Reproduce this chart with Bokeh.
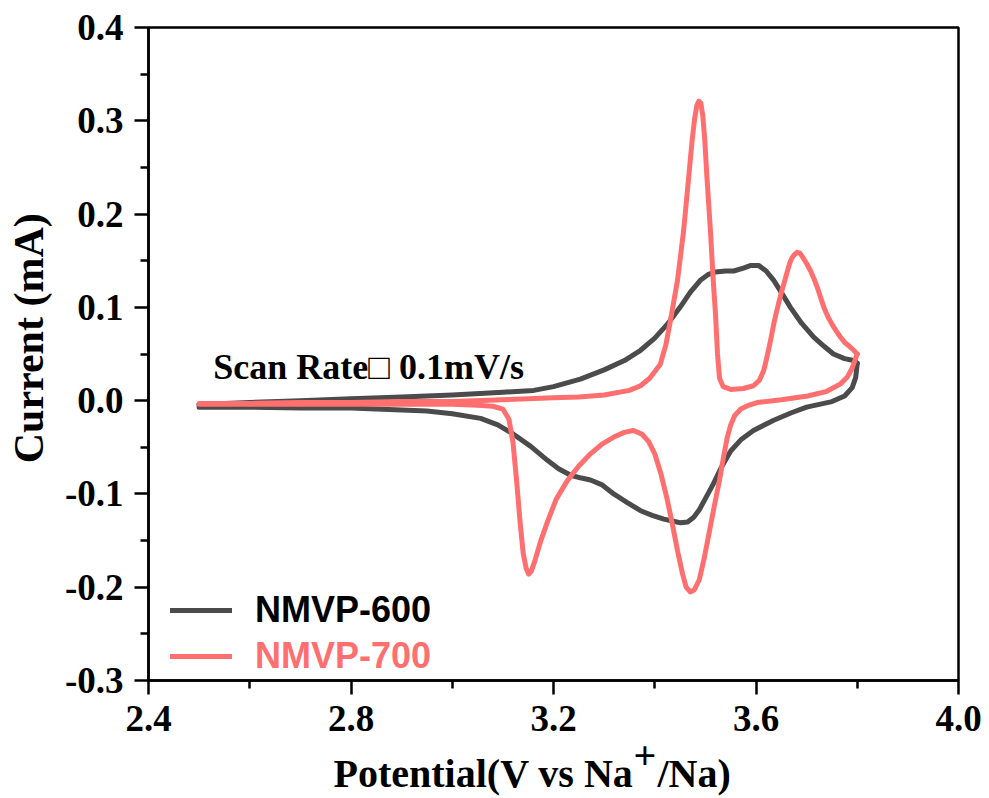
from bokeh.plotting import figure
from bokeh.layouts import column
from bokeh.models import Range1d, FixedTicker, Legend, LegendItem, Label
from bokeh.core.properties import value
from bokeh.embed import file_html
from bokeh.resources import INLINE

# ---------------- data ----------------
# NMVP-600: anodic (upper) branch, 2.5 -> 3.8 V
nmvp600_up_x = [2.50, 2.60, 2.70, 2.80, 2.90, 3.00, 3.10, 3.161, 3.20, 3.253, 3.30, 3.340,
                3.372, 3.400, 3.425, 3.450, 3.470, 3.490, 3.505, 3.520, 3.540, 3.556, 3.575,
                3.590, 3.605, 3.620, 3.635, 3.650, 3.668, 3.690, 3.714, 3.735, 3.753, 3.775,
                3.793, 3.800]
nmvp600_up_y = [-0.004, -0.002, 0.000, 0.002, 0.004, 0.006, 0.009, 0.011, 0.015, 0.023, 0.033, 0.043,
                0.054, 0.067, 0.082, 0.100, 0.116, 0.129, 0.135, 0.138, 0.139, 0.139, 0.142,
                0.145, 0.145, 0.139, 0.129, 0.116, 0.100, 0.083, 0.068, 0.058, 0.050, 0.045,
                0.043, 0.040]
# NMVP-600: cathodic (lower) branch, 3.8 -> 2.5 V
nmvp600_dn_x = [3.800, 3.797, 3.790, 3.775, 3.750, 3.700, 3.670, 3.635, 3.595, 3.570, 3.550, 3.533,
                3.516, 3.500, 3.488, 3.477, 3.465, 3.451, 3.435, 3.418, 3.395, 3.372, 3.345, 3.319,
                3.295, 3.273, 3.255, 3.234, 3.210, 3.188, 3.155, 3.121, 3.090, 3.056, 3.000, 2.950,
                2.900, 2.800, 2.700, 2.600, 2.500, 2.500]
nmvp600_dn_y = [0.040, 0.025, 0.014, 0.005, -0.001, -0.007, -0.013, -0.021, -0.032, -0.042, -0.054, -0.070,
                -0.089, -0.105, -0.117, -0.125, -0.130, -0.131, -0.129, -0.127, -0.123, -0.118, -0.109, -0.100,
                -0.090, -0.085, -0.083, -0.080, -0.073, -0.064, -0.049, -0.036, -0.026, -0.019, -0.014, -0.011,
                -0.010, -0.008, -0.008, -0.007, -0.007, -0.004]

# NMVP-700: anodic (upper) branch
nmvp700_up_x = [2.50, 2.60, 2.70, 2.80, 2.90, 3.00, 3.10, 3.20, 3.25, 3.30, 3.35, 3.372, 3.39,
                3.411, 3.422, 3.431, 3.445, 3.457, 3.468, 3.474, 3.479, 3.483, 3.487, 3.491,
                3.495, 3.499, 3.503, 3.510, 3.516, 3.520, 3.524, 3.528, 3.535, 3.550, 3.575,
                3.595, 3.607, 3.615, 3.620, 3.625, 3.630, 3.635, 3.640, 3.645, 3.650, 3.655,
                3.661, 3.667, 3.671, 3.675, 3.681, 3.687, 3.693, 3.700, 3.708, 3.715, 3.722,
                3.728, 3.734, 3.742, 3.750, 3.758, 3.767, 3.776, 3.785, 3.793, 3.800]
nmvp700_up_y = [-0.003, -0.003, -0.002, -0.002, -0.001, -0.001, 0.001, 0.003, 0.004, 0.006, 0.011, 0.016, 0.024,
                0.039, 0.060, 0.086, 0.129, 0.182, 0.245, 0.280, 0.303, 0.316, 0.321, 0.319,
                0.305, 0.278, 0.240, 0.182, 0.125, 0.093, 0.050, 0.024, 0.015, 0.012, 0.013,
                0.016, 0.022, 0.032, 0.043, 0.055, 0.068, 0.082, 0.094, 0.105, 0.116, 0.125,
                0.137, 0.148, 0.153, 0.156, 0.159, 0.158, 0.153, 0.147, 0.139, 0.130, 0.120,
                0.110, 0.100, 0.090, 0.082, 0.075, 0.068, 0.062, 0.058, 0.054, 0.050]
# NMVP-700: cathodic (lower) branch
nmvp700_dn_x = [3.800, 3.790, 3.780, 3.767, 3.740, 3.702, 3.650, 3.602, 3.585, 3.570, 3.558, 3.550,
                3.543, 3.536, 3.528, 3.518, 3.508, 3.498, 3.488, 3.478, 3.470, 3.462, 3.455, 3.445,
                3.435, 3.425, 3.412, 3.400, 3.388, 3.375, 3.358, 3.340, 3.319, 3.295, 3.273, 3.250,
                3.227, 3.205, 3.188, 3.175, 3.163, 3.156, 3.151, 3.146, 3.140, 3.134, 3.127, 3.120,
                3.112, 3.100, 3.080, 3.050, 3.000, 2.900, 2.800, 2.700, 2.600, 2.500]
nmvp700_dn_y = [0.050, 0.035, 0.025, 0.018, 0.010, 0.005, 0.001, -0.002, -0.005, -0.009, -0.016, -0.026,
                -0.040, -0.060, -0.085, -0.112, -0.140, -0.168, -0.192, -0.203, -0.205, -0.200, -0.186, -0.161,
                -0.133, -0.107, -0.078, -0.057, -0.044, -0.036, -0.032, -0.034, -0.039, -0.047, -0.057, -0.070,
                -0.086, -0.106, -0.130, -0.150, -0.172, -0.183, -0.186, -0.180, -0.163, -0.130, -0.085, -0.045,
                -0.020, -0.009, -0.006, -0.005, -0.004, -0.004, -0.004, -0.004, -0.004, -0.004]

x_ticks = [2.4, 2.8, 3.2, 3.6, 4.0]
x_tick_labels = ["2.4", "2.8", "3.2", "3.6", "4.0"]
x_minor = [2.6, 3.0, 3.4, 3.8]
y_ticks = [-0.3, -0.2, -0.1, 0.0, 0.1, 0.2, 0.3, 0.4]
y_tick_labels = ["-0.3", "-0.2", "-0.1", "0.0", "0.1", "0.2", "0.3", "0.4"]
y_minor = [-0.25, -0.15, -0.05, 0.05, 0.15, 0.25, 0.35]

series_names = ["NMVP-600", "NMVP-700"]
series_colors = ["#4b4b4b", "#ff6f6f"]

x_title_parts = ["Potential(V vs Na", "+", "/Na)"]
y_title = "\u00a0\u00a0\u00a0Current (mA)"
note_text = "Scan Rate\u25a1 0.1mV/s"

# ---------------- main figure ----------------
SERIF = "Liberation Serif"
SANS = "Liberation Sans"

xr = Range1d(2.4, 4.0)
p = figure(width=989, height=750, x_range=xr, y_range=Range1d(-0.3, 0.4),
           output_backend="svg", toolbar_location=None,
           min_border_left=148, min_border_right=31, min_border_top=27, min_border_bottom=70)
p.grid.visible = False
p.outline_line_color = "black"
p.outline_line_width = 2.5
p.background_fill_color = "white"
p.border_fill_color = "white"

p.xaxis.ticker = FixedTicker(ticks=x_ticks, minor_ticks=x_minor)
p.yaxis.ticker = FixedTicker(ticks=y_ticks, minor_ticks=y_minor)
p.xaxis.major_label_overrides = {t: l for t, l in zip(x_ticks, x_tick_labels)}
p.yaxis.major_label_overrides = {t: l for t, l in zip(y_ticks, y_tick_labels)}

for ax in (p.xaxis, p.yaxis):
    ax.axis_line_width = 2.5
    ax.major_tick_line_width = 2.5
    ax.minor_tick_line_width = 2.5
    ax.major_tick_out = 14
    ax.major_tick_in = 0
    ax.minor_tick_out = 8
    ax.minor_tick_in = 0
    ax.major_label_text_font = SERIF
    ax.major_label_text_font_style = "bold"
    ax.major_label_text_font_size = "37px"
    ax.major_label_text_color = "black"

p.xaxis.major_label_standoff = 11
p.yaxis.major_label_standoff = 11

p.yaxis.axis_label = y_title
p.yaxis.axis_label_text_font = SERIF
p.yaxis.axis_label_text_font_style = "bold"
p.yaxis.axis_label_text_font_size = "42px"
p.yaxis.axis_label_text_color = "black"
p.yaxis.axis_label_standoff = 10

line_kw = dict(line_width=5, line_join="round", line_cap="round")
r600a = p.line(nmvp600_up_x, nmvp600_up_y, line_color=series_colors[0], **line_kw)
r600b = p.line(nmvp600_dn_x, nmvp600_dn_y, line_color=series_colors[0], **line_kw)
r700a = p.line(nmvp700_up_x, nmvp700_up_y, line_color=series_colors[1], **line_kw)
r700b = p.line(nmvp700_dn_x, nmvp700_dn_y, line_color=series_colors[1], **line_kw)

p.add_layout(Label(x=2.528, y=0.0365, text=note_text, text_font=SERIF,
                   text_font_style="bold", text_font_size="36px", text_baseline="alphabetic",
                   text_color="black"))

for renderer, name, color, ly in ((r600a, series_names[0], "black", 49),
                                  (r700a, series_names[1], series_colors[1], 3)):
    lg = Legend(items=[LegendItem(label=name, renderers=[renderer])], location=(22, ly),
                glyph_width=62, glyph_height=30, label_standoff=23, padding=0, margin=0,
                border_line_alpha=0, background_fill_alpha=0,
                label_text_font=SANS, label_text_font_style="bold", label_text_font_size="36px",
                label_text_color=color)
    p.add_layout(lg)

# ---------------- transparent strip holding the x-axis title (with its superscript) ----------------
# pulled up by 20px so that it overlaps the (empty) lower part of the main figure's border
t = figure(width=989, height=68, x_range=xr, y_range=Range1d(0, 68),
           output_backend="svg", toolbar_location=None, x_axis_type=None, y_axis_type=None,
           min_border_left=148, min_border_right=31, min_border_top=0, min_border_bottom=0,
           margin=(-20, 0, 0, 0))
t.grid.visible = False
t.outline_line_color = None
t.background_fill_alpha = 0
t.border_fill_alpha = 0

txt_kw = dict(text_font=value(SERIF), text_font_style="bold", text_font_size="40px",
              text_baseline="alphabetic", text_color="black")
t.text(x=[3.358], y=[25], text=[x_title_parts[0]], text_align="right", **txt_kw)
t.text(x=[3.358], y=[43], text=[x_title_parts[1]], text_align="left", **txt_kw)
t.text(x=[3.4054], y=[25], text=[x_title_parts[2]], text_align="left", **txt_kw)

layout = column(p, t, spacing=0)
open("out.html", "w").write(file_html(layout, INLINE))
